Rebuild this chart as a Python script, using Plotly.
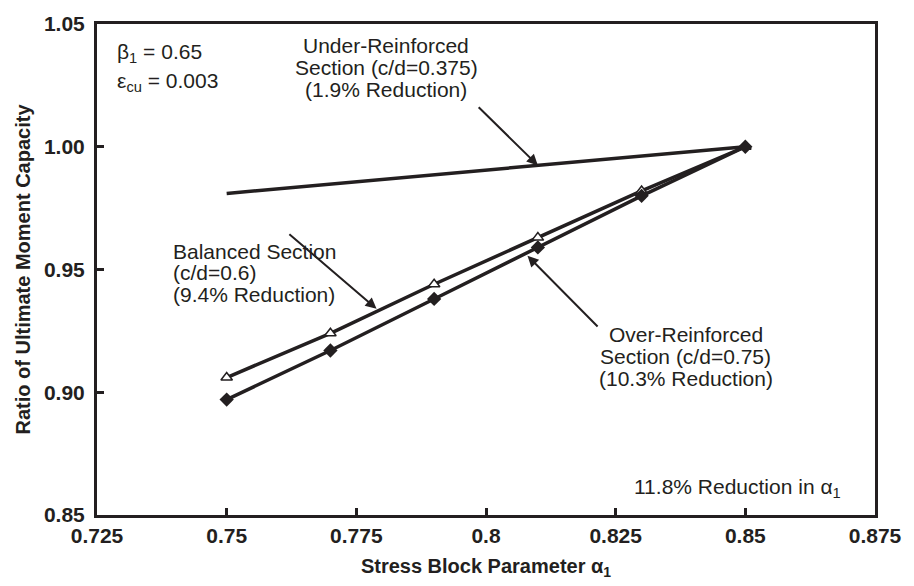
import plotly.graph_objects as go

# Stress block parameter alpha_1 and moment-capacity ratios
alpha1 = [0.75, 0.77, 0.79, 0.81, 0.83, 0.85]
balanced = [0.906, 0.924, 0.944, 0.963, 0.982, 1.000]
over_reinforced = [0.897, 0.917, 0.938, 0.959, 0.980, 1.000]
under_alpha1 = [0.75, 0.85]
under_reinforced = [0.981, 1.000]

x_ticks = [0.725, 0.75, 0.775, 0.8, 0.825, 0.85, 0.875]
x_tick_text = ["0.725", "0.75", "0.775", "0.8", "0.825", "0.85", "0.875"]
y_ticks = [0.85, 0.90, 0.95, 1.00, 1.05]
y_tick_text = ["0.85", "0.90", "0.95", "1.00", "1.05"]

FONT = "Liberation Sans, Arial, sans-serif"
BLACK = "#231f20"

fig = go.Figure()
fig.add_trace(go.Scatter(x=under_alpha1, y=under_reinforced, mode="lines",
                         line=dict(color=BLACK, width=3.5), showlegend=False))
fig.add_trace(go.Scatter(x=alpha1, y=balanced, mode="lines+markers",
                         line=dict(color=BLACK, width=3.5),
                         marker=dict(symbol="triangle-up", size=10, color="white",
                                     line=dict(color=BLACK, width=1.5)),
                         showlegend=False))
fig.add_trace(go.Scatter(x=alpha1, y=over_reinforced, mode="lines+markers",
                         line=dict(color=BLACK, width=3.5),
                         marker=dict(symbol="diamond", size=11, color=BLACK),
                         showlegend=False))

text_font = dict(family=FONT, size=21, color=BLACK)

def label(x, y, text, xanchor="center"):
    fig.add_annotation(x=x, y=y, xref="x", yref="y", text=text, showarrow=False,
                       xanchor=xanchor, yanchor="middle", font=text_font)

def block(x, ys, lines, xanchor="center"):
    # one annotation per line keeps the tight line spacing
    for y, t in zip(ys, lines):
        label(x, y, t, xanchor)

def arrow(x, y, ax, ay):
    fig.add_annotation(x=x, y=y, ax=ax, ay=ay, xref="x", yref="y", axref="x", ayref="y",
                       text="", showarrow=True, arrowhead=2, arrowsize=1.1,
                       arrowwidth=2, arrowcolor=BLACK, standoff=0)

label(0.7285, 1.0381, "β<sub>1</sub> = 0.65", xanchor="left")
label(0.7285, 1.0262, "ε<sub>cu</sub> = 0.003", xanchor="left")
block(0.7808, [1.0413, 1.0321, 1.0234],
      ["Under-Reinforced", "Section (c/d=0.375)", "(1.9% Reduction)"])
block(0.7392, [0.9575, 0.9486, 0.9397],
      ["Balanced Section", "(c/d=0.6)", "(9.4% Reduction)"], xanchor="left")
block(0.8385, [0.9236, 0.9145, 0.9054],
      ["Over-Reinforced", "Section (c/d=0.75)", "(10.3% Reduction)"])
label(0.8688, 0.8610, "11.8% Reduction in α<sub>1</sub>", xanchor="right")

arrow(0.8100, 0.9924, 0.7983, 1.0167)
arrow(0.7789, 0.9340, 0.7618, 0.9649)
arrow(0.8080, 0.9556, 0.8218, 0.9262)

axis_common = dict(showline=True, linewidth=3, linecolor=BLACK, mirror=True,
                   ticks="inside", ticklen=7, tickwidth=3, tickcolor=BLACK,
                   showgrid=False, zeroline=False,
                   tickfont=dict(family=FONT, size=21, color=BLACK, weight="bold"))

fig.update_xaxes(range=[0.725, 0.875], tickvals=x_ticks, ticktext=x_tick_text,
                 title=dict(text="Stress Block Parameter α<sub>1</sub>", standoff=13,
                            font=dict(family=FONT, size=20, color=BLACK, weight="bold")),
                 **axis_common)
fig.update_yaxes(range=[0.85, 1.05], tickvals=y_ticks, ticktext=y_tick_text,
                 ticklabelstandoff=5,
                 title=dict(text="Ratio of Ultimate Moment Capacity", standoff=8,
                            font=dict(family=FONT, size=20, color=BLACK, weight="bold")),
                 **axis_common)

fig.update_layout(width=914, height=586, margin=dict(l=97, r=28, t=14, b=67),
                  plot_bgcolor="white", paper_bgcolor="white")

fig.write_html("out.html")
